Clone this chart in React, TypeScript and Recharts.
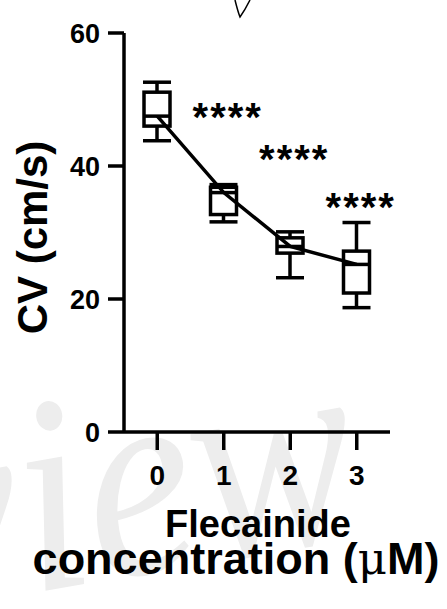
import React from "react";
import { ComposedChart, Bar, Line, Scatter, XAxis, YAxis } from "recharts";

// CV vs flecainide concentration, box plots (min / q1 / median / q3 / max)
const concentrations = ["0", "1", "2", "3"];
const cvMin = [43.8, 31.6, 23.2, 18.7];
const cvQ1 = [46.0, 32.7, 26.9, 20.9];
const cvMedian = [47.5, 36.0, 27.9, 25.2];
const cvQ3 = [51.1, 36.8, 29.2, 27.2];
const cvMax = [52.6, 37.2, 30.1, 31.5];
// where the **** marks sit (y value), none over the control group
const starLevel = [null, 48.5, 42.2, 35.0];
const yTicks = [0, 20, 40, 60];

const data = concentrations.map((c, i) => ({
  conc: c,
  min: cvMin[i],
  q1: cvQ1[i],
  median: cvMedian[i],
  q3: cvQ3[i],
  max: cvMax[i],
  range: [cvMin[i], cvMax[i]],
  star: starLevel[i],
}));

const FONT = "'Liberation Sans', Arial, Helvetica, sans-serif";
const SW = 3.5;

const BoxShape = (props: any) => {
  const { x, y, width, height, payload } = props;
  if (!payload || !height) return null;
  const k = height / (payload.max - payload.min);
  const py = (v: number) => y + (payload.max - v) * k;
  const cx = x + width / 2;
  return (
    <g stroke="#000" strokeWidth={SW} fill="none">
      <line x1={x - 1} x2={x + width + 1} y1={py(payload.max)} y2={py(payload.max)} />
      <line x1={cx} x2={cx} y1={py(payload.max)} y2={py(payload.q3)} />
      <rect x={x} y={py(payload.q3)} width={width} height={py(payload.q1) - py(payload.q3)} />
      <line x1={x} x2={x + width} y1={py(payload.median)} y2={py(payload.median)} />
      <line x1={cx} x2={cx} y1={py(payload.q1)} y2={py(payload.min)} />
      <line x1={x - 1} x2={x + width + 1} y1={py(payload.min)} y2={py(payload.min)} />
    </g>
  );
};

const StarShape = (props: any) => {
  const { cx, cy, payload } = props;
  if (payload == null || payload.star == null || cy == null || isNaN(cy)) return null;
  return (
    <text x={cx + 4} y={cy + 22} textAnchor="middle" fontFamily={FONT} fontWeight="bold" fontSize={40} letterSpacing={2} fill="#000">
      ****
    </text>
  );
};

const YLabel = (props: any) => {
  const { viewBox } = props;
  const x = viewBox.x + 47;
  const y = viewBox.y + viewBox.height / 2 + 5;
  return (
    <text x={x} y={y} transform={`rotate(-90 ${x} ${y})`} textAnchor="middle" fontFamily={FONT} fontWeight="bold" fontSize={42} fill="#000">
      CV (cm/s)
    </text>
  );
};

const XLabel = (props: any) => {
  const { viewBox } = props;
  const cx = viewBox.x + viewBox.width / 2;
  return (
    <g fontFamily={FONT} fontWeight="bold" fill="#000" textAnchor="middle">
      <text x={cx + 1} y={537} fontSize={38}>Flecainide</text>
      <text x={236} y={574} fontSize={45}>
        concentration (<tspan fontFamily="'DejaVu Serif', 'Liberation Serif', serif" fontWeight="normal">μ</tspan>M)
      </text>
    </g>
  );
};

export default function App() {
  return (
    <div style={{ position: "absolute", left: 0, top: 0, width: 447, height: 609, background: "#fff" }}>
      {/* faint watermark + pen mark from the scan */}
      <svg width={447} height={609} style={{ position: "absolute", left: 0, top: 0 }}>
        <g transform="translate(-75 612) rotate(-10) scale(1 1.15)">
          <text x={0} y={0} fontFamily="'Liberation Serif', serif" fontStyle="italic" fontSize={245} fill="#ededed">
            view
          </text>
        </g>
        <path d="M235 0 Q238 12 240 17 Q245 10 250 0" stroke="#000" strokeWidth={1.5} fill="none" />
      </svg>
      <div style={{ position: "absolute", left: 0, top: 0 }}>
        <ComposedChart width={447} height={609} data={data} margin={{ top: 33, right: 57, left: 0, bottom: 0 }}>
          <XAxis
            dataKey="conc"
            height={177}
            axisLine={{ stroke: "#000", strokeWidth: SW }}
            tickLine={{ stroke: "#000", strokeWidth: SW }}
            tickSize={18}
            tickMargin={15}
            tick={{ fontSize: 28, fontWeight: "bold", fill: "#000", fontFamily: FONT }}
            label={<XLabel />}
          />
          <YAxis
            width={124}
            domain={[0, 60]}
            ticks={yTicks}
            axisLine={{ stroke: "#000", strokeWidth: SW }}
            tickLine={{ stroke: "#000", strokeWidth: SW }}
            tickSize={16}
            tickMargin={8}
            tick={{ fontSize: 27, fontWeight: "bold", fill: "#000", fontFamily: FONT }}
            label={<YLabel />}
          />
          <Bar dataKey="range" barSize={26} shape={<BoxShape />} isAnimationActive={false} />
          <Line dataKey="median" stroke="#000" strokeWidth={SW} dot={false} isAnimationActive={false} />
          <Scatter dataKey="star" shape={<StarShape />} isAnimationActive={false} />
        </ComposedChart>
      </div>
    </div>
  );
}
